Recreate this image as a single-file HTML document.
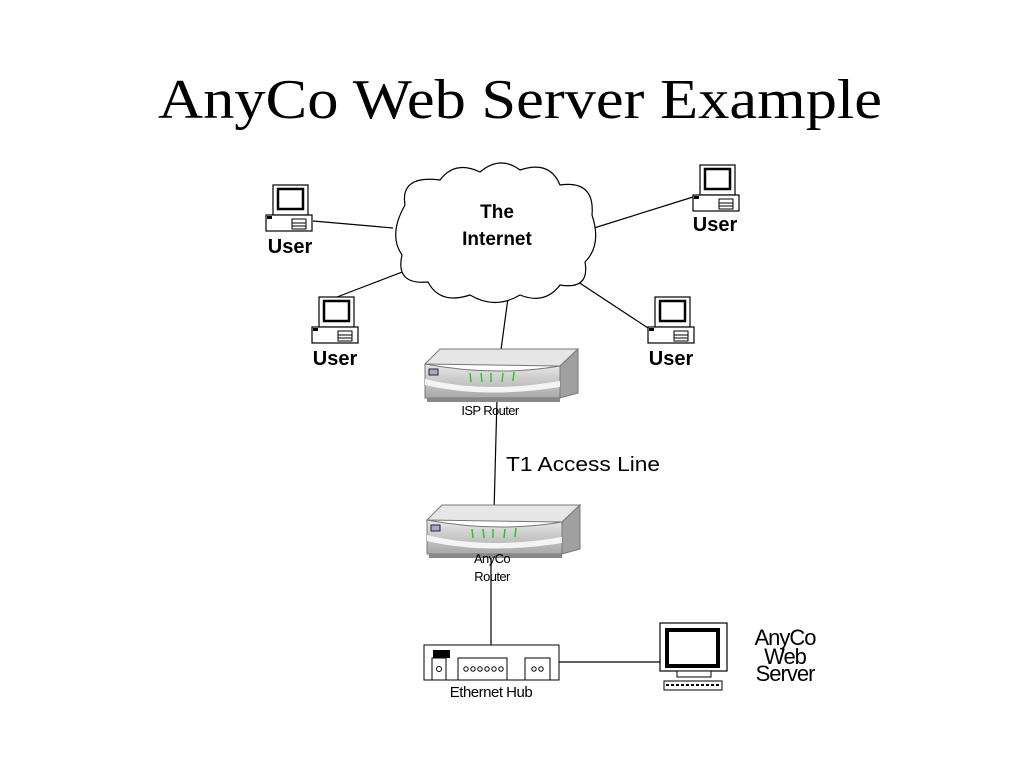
<!DOCTYPE html>
<html><head><meta charset="utf-8"><style>
html,body{margin:0;padding:0;background:#fff}
svg{display:block}
</style></head><body>
<svg width="1024" height="768" viewBox="0 0 1024 768" xmlns="http://www.w3.org/2000/svg">
<defs>
<g id="pc">
  <rect x="7" y="0" width="35" height="30" fill="#fff" stroke="#000" stroke-width="1.2"/>
  <rect x="12" y="4" width="25" height="20" fill="#fff" stroke="#000" stroke-width="2.5"/>
  <rect x="0" y="30" width="46" height="16" fill="#fff" stroke="#000" stroke-width="1.2"/>
  <rect x="1" y="31" width="5" height="3" fill="#000"/>
  <rect x="26" y="34" width="14" height="10" fill="#fff" stroke="#000" stroke-width="1"/>
  <line x1="26" y1="38" x2="40" y2="38" stroke="#000"/>
  <line x1="26" y1="41" x2="40" y2="41" stroke="#000"/>
</g>
<linearGradient id="fr" x1="0" y1="0" x2="0" y2="1">
  <stop offset="0" stop-color="#e8e8e8"/><stop offset="1" stop-color="#a8a8a8"/>
</linearGradient>
<g id="router">
  <path d="M0 15 L15 0 L153 0 L135 17 Z" fill="#e6e6e6" stroke="#777"/>
  <path d="M135 17 L153 0 L153 44 L135 49 Z" fill="#a0a0a0" stroke="#777"/>
  <path d="M0 15 Q70 28 135 17 L135 49 L0 49 Z" fill="url(#fr)" stroke="#777"/>
  <path d="M0 30 Q60 45 135 32 L135 38 Q60 50 0 36 Z" fill="#f4f4f4"/>
  <rect x="4" y="20" width="9" height="6" fill="#aab" stroke="#224"/>
  <g stroke="#2c2" stroke-width="1.5">
    <line x1="45" y1="24" x2="46" y2="33"/><line x1="56" y1="24" x2="57" y2="33"/>
    <line x1="66" y1="24" x2="66" y2="33"/><line x1="78" y1="24" x2="77" y2="33"/>
    <line x1="89" y1="23" x2="88" y2="32"/>
  </g>
  <rect x="2" y="49" width="133" height="4" fill="#888"/>
</g>
</defs>

<text x="520" y="118" font-family="Liberation Serif, serif" font-size="56" text-anchor="middle" textLength="724" lengthAdjust="spacingAndGlyphs">AnyCo Web Server Example</text>

<g stroke="#000" stroke-width="1.2" fill="none">
  <line x1="313" y1="221" x2="393" y2="228"/>
  <line x1="337" y1="297" x2="418" y2="266"/>
  <line x1="693" y1="197" x2="594" y2="228"/>
  <line x1="651" y1="330" x2="563" y2="272"/>
  <line x1="508" y1="298" x2="500" y2="357"/>
  <line x1="497" y1="398" x2="494" y2="512"/>
  <line x1="491" y1="555" x2="491" y2="645"/>
  <line x1="559" y1="662" x2="665" y2="662"/>
</g>

<path d="M405 205 Q400 175 440 180 Q455 160 480 172 Q500 155 520 170 Q550 160 560 185 Q595 180 592 215 Q602 245 585 262 Q590 290 560 285 Q545 305 520 295 Q495 310 470 295 Q440 305 428 282 Q395 285 402 255 Q388 235 405 205 Z" fill="#fff" stroke="#000" stroke-width="1.2"/>
<g font-family="Liberation Sans, sans-serif" font-weight="bold" font-size="19" text-anchor="middle">
  <text x="497" y="218">The</text>
  <text x="497" y="245">Internet</text>
</g>

<use href="#pc" x="266" y="185"/>
<use href="#pc" x="312" y="297"/>
<use href="#pc" x="693" y="165"/>
<use href="#pc" x="648" y="297"/>
<g font-family="Liberation Sans, sans-serif" font-weight="bold" font-size="20" text-anchor="middle">
  <text x="290" y="253">User</text>
  <text x="335" y="365">User</text>
  <text x="715" y="231">User</text>
  <text x="671" y="365">User</text>
</g>

<use href="#router" x="425" y="349"/>
<use href="#router" x="427" y="505"/>
<g font-family="Liberation Sans, sans-serif" font-size="13" text-anchor="middle" letter-spacing="-0.6">
  <text x="490" y="415">ISP Router</text>
  <text x="492" y="563">AnyCo</text>
  <text x="492" y="581">Router</text>
</g>
<text x="506" y="471" font-family="Liberation Sans, sans-serif" font-size="20" textLength="154" lengthAdjust="spacingAndGlyphs">T1 Access Line</text>

<g stroke="#000" fill="#fff" stroke-width="1">
  <rect x="424" y="645" width="135" height="35"/>
  <rect x="432" y="658" width="14" height="22"/>
  <rect x="458" y="658" width="49" height="22"/>
  <rect x="525" y="658" width="25" height="22"/>
  <circle cx="439" cy="669" r="2.5"/>
  <circle cx="466" cy="669" r="2.2"/><circle cx="473" cy="669" r="2.2"/><circle cx="480" cy="669" r="2.2"/>
  <circle cx="487" cy="669" r="2.2"/><circle cx="494" cy="669" r="2.2"/><circle cx="501" cy="669" r="2.2"/>
  <circle cx="534" cy="669" r="2.2"/><circle cx="541" cy="669" r="2.2"/>
</g>
<rect x="433" y="650" width="17" height="8" fill="#000"/>
<text x="491" y="697" font-family="Liberation Sans, sans-serif" font-size="15" text-anchor="middle" letter-spacing="-0.5">Ethernet Hub</text>

<rect x="660" y="623" width="67" height="48" fill="#fff" stroke="#000" stroke-width="1.2"/>
<rect x="667" y="630" width="51" height="36" fill="#fff" stroke="#000" stroke-width="4"/>
<rect x="677" y="671" width="34" height="6" fill="#fff" stroke="#000"/>
<rect x="664" y="681" width="58" height="9" fill="#fff" stroke="#000"/>
<line x1="666" y1="685" x2="720" y2="685" stroke="#000" stroke-width="2" stroke-dasharray="3 2"/>
<g font-family="Liberation Sans, sans-serif" font-size="22" text-anchor="middle" letter-spacing="-1">
  <text x="785" y="645">AnyCo</text>
  <text x="785" y="664">Web</text>
  <text x="785" y="681">Server</text>
</g>
</svg>
</body></html>
